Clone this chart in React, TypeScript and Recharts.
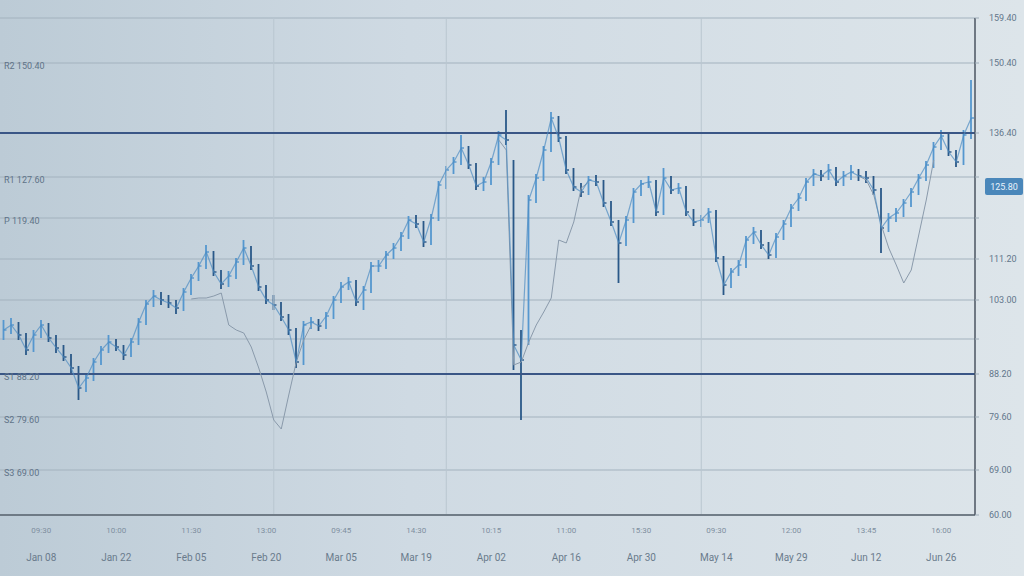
import React from 'react';
import { ComposedChart, Bar, Line, XAxis, YAxis, CartesianGrid, ReferenceLine } from 'recharts';

// daily closes
const closes = [
  97.0, 98.0, 96.0, 93.0, 96.0, 98.0, 95.4, 93.4, 91.6, 89.4,
  85.4, 87.4, 90.6, 93.0, 94.6, 93.6, 92.0, 94.6, 98.6, 102.2,
  103.8, 103.0, 102.4, 101.4, 104.6, 107.4, 109.8, 112.6, 108.6, 106.2,
  107.8, 110.6, 113.4, 109.8, 105.6, 103.0, 102.0, 99.6, 97.0, 90.6,
  98.0, 98.6, 97.8, 99.8, 103.0, 105.6, 106.6, 102.6, 105.0, 109.8,
  109.8, 112.0, 113.4, 115.8, 119.0, 118.2, 114.6, 119.4, 126.0, 129.0,
  130.6, 133.4, 130.0, 125.8, 126.6, 130.6, 136.0, 135.0, 94.0, 91.0,
  123.0, 127.4, 133.0, 139.4, 135.4, 129.0, 125.6, 124.6, 127.0, 126.6,
  122.4, 118.6, 114.4, 119.0, 124.6, 126.2, 126.6, 120.6, 127.4, 125.0,
  125.4, 120.6, 118.6, 119.0, 120.6, 111.4, 106.0, 108.6, 110.0, 115.0,
  116.6, 114.0, 112.0, 115.6, 118.2, 121.4, 123.4, 126.6, 128.2, 127.8,
  129.0, 126.6, 127.8, 128.6, 127.8, 127.4, 125.0, 117.4, 119.4, 120.4,
  122.4, 124.6, 127.4, 130.0, 133.6, 135.8, 132.6, 130.6, 136.0, 139.4,
];

const highs = [
  99.0, 99.4, 98.6, 96.4, 97.0, 99.0, 98.4, 96.0, 94.0, 92.2,
  89.8, 88.4, 91.4, 93.8, 96.0, 95.2, 94.0, 95.4, 99.4, 103.0,
  105.0, 104.6, 104.0, 103.0, 105.4, 108.2, 110.6, 114.0, 112.8, 109.0,
  108.8, 111.4, 115.0, 113.8, 110.2, 106.0, 104.0, 102.6, 100.2, 97.4,
  98.8, 99.6, 99.2, 100.6, 103.8, 106.6, 107.6, 107.0, 105.8, 110.6,
  111.0, 112.8, 114.4, 116.6, 119.8, 120.0, 118.8, 120.2, 126.8, 129.8,
  131.6, 136.0, 133.8, 130.4, 127.6, 131.4, 136.8, 141.0, 131.0, 97.0,
  124.0, 128.2, 133.8, 140.6, 139.8, 135.8, 129.4, 126.4, 127.8, 128.0,
  127.0, 122.8, 119.0, 119.8, 125.4, 127.0, 127.8, 127.0, 129.4, 127.8,
  126.4, 125.8, 121.2, 120.0, 121.4, 121.0, 111.8, 109.4, 111.0, 115.8,
  117.6, 117.0, 114.6, 116.4, 119.0, 122.2, 124.4, 127.4, 129.2, 129.0,
  130.2, 129.6, 128.8, 130.0, 129.2, 128.8, 127.8, 125.4, 120.4, 121.4,
  123.2, 125.4, 128.2, 130.8, 134.6, 137.0, 136.2, 133.0, 137.0, 147.0,
];

const lows = [
  95.0, 96.2, 95.0, 92.0, 92.6, 95.4, 94.6, 92.4, 90.8, 88.0,
  83.0, 84.6, 86.8, 90.0, 92.4, 92.8, 91.0, 91.6, 94.0, 98.0,
  101.6, 102.0, 101.4, 100.2, 100.8, 104.0, 106.8, 109.2, 107.8, 105.2,
  105.6, 107.2, 110.0, 109.0, 104.8, 102.2, 101.0, 98.8, 96.0, 89.4,
  90.0, 97.2, 96.8, 97.2, 99.2, 102.4, 105.0, 101.8, 101.0, 104.4,
  108.6, 109.2, 111.2, 112.8, 115.2, 117.4, 113.6, 114.0, 118.8, 125.2,
  128.2, 130.0, 129.2, 125.0, 124.8, 126.0, 130.0, 134.0, 89.0, 79.0,
  94.0, 122.4, 126.8, 132.6, 134.6, 128.2, 124.8, 123.6, 124.0, 125.8,
  121.6, 117.8, 106.4, 113.8, 118.4, 123.8, 125.4, 119.8, 120.0, 124.2,
  124.2, 119.8, 117.8, 117.6, 118.4, 110.6, 104.0, 105.4, 107.8, 109.4,
  114.2, 113.2, 111.2, 111.4, 115.0, 117.6, 120.8, 122.8, 125.8, 126.8,
  127.0, 125.8, 125.8, 127.0, 126.8, 126.4, 124.0, 112.4, 116.6, 118.6,
  119.6, 121.6, 124.0, 126.8, 129.4, 133.0, 131.8, 129.6, 130.0, 135.2,
];

// thin signal line, only drawn where it leaves the price
const signalPoints: [number, number][] = [
  [25, 103.2], [26, 103.4], [27, 103.4], [28, 103.8], [29, 104.4], [30, 98.0],
  [31, 97.0], [32, 96.4], [33, 93.6], [34, 89.4], [35, 84.6], [36, 79.0],
  [37, 77.2], [38, 84.0], [39, 90.6], [40, 95.0], [41, 98.0],
  [66, 135.0], [67, 133.0], [68, 90.0], [69, 90.6], [70, 94.6], [71, 98.0],
  [72, 100.6], [73, 103.4], [74, 115.0], [75, 114.4], [76, 118.6], [77, 125.4], [78, 126.6],
  [114, 127.8], [115, 127.0], [116, 124.0], [117, 118.0], [118, 113.4], [119, 110.0],
  [120, 106.4], [121, 109.0], [122, 116.0], [123, 123.0], [124, 131.0],
];

const xTickIdx = [5, 15, 25, 35, 45, 55, 65, 75, 85, 95, 105, 115, 125];
const xTickDate = ['Jan 08', 'Jan 22', 'Feb 05', 'Feb 20', 'Mar 05', 'Mar 19', 'Apr 02', 'Apr 16', 'Apr 30', 'May 14', 'May 29', 'Jun 12', 'Jun 26'];
const xTickSub = ['09:30', '10:00', '11:30', '13:00', '09:45', '14:30', '10:15', '11:00', '15:30', '09:30', '12:00', '13:45', '16:00'];

const gridTicks = [60, 69, 79.6, 88.2, 95.2, 103, 111.2, 119.4, 127.6, 136.4, 150.4, 159.4];
const rightHidden = [95.2, 119.4, 127.6];
const leftTicks = [69, 79.6, 88.2, 119.4, 127.6, 150.4];
const leftLabels = ['S3 69.00', 'S2 79.60', 'S1 88.20', 'P 119.40', 'R1 127.60', 'R2 150.40'];
const levelLines = [136.4, 88.2];
const lastPrice = 125.8;
const vGrid = [36, 59, 93];

const signalMap = new Map(signalPoints);
const rows = closes.map((c, i) => ({
  t: i,
  close: c,
  high: highs[i],
  low: lows[i],
  up: i === 0 || c >= closes[i - 1],
  signal: signalMap.has(i) ? signalMap.get(i) : null,
}));

const FONT = 'Roboto, "DejaVu Sans", sans-serif';

const Candle = (props: any) => {
  const { x, y, width, height, payload } = props;
  const top = Math.min(y, y + height);
  const h = Math.abs(height);
  const cx = x + width / 2;
  const span = payload.high - payload.low || 1;
  const yc = top + ((payload.high - payload.close) / span) * h;
  const col = payload.up ? '#5597cf' : '#2a5888';
  return (
    <g>
      <line x1={cx} x2={cx} y1={top} y2={top + h} stroke={col} strokeWidth={1.8} />
      <line x1={cx} x2={cx + 3} y1={yc} y2={yc} stroke={col} strokeWidth={1.4} />
    </g>
  );
};

const XTick = ({ x, y, payload }: any) => {
  const k = xTickIdx.indexOf(payload.value);
  if (k < 0) return null;
  return (
    <g fontFamily={FONT}>
      <text x={x} y={y + 10} textAnchor="middle" fontSize={8} fill="#7f8fa0">{xTickSub[k]}</text>
      <text x={x} y={y + 38} textAnchor="middle" fontSize={10} fill="#6a7b8c">{xTickDate[k]}</text>
    </g>
  );
};

const RightTick = ({ x, y, payload }: any) => {
  if (rightHidden.includes(payload.value)) return null;
  return (
    <text x={x + 8} y={y + 3} fontSize={9} fill="#62768b" fontFamily={FONT}>
      {payload.value.toFixed(2)}
    </text>
  );
};

const LeftLabel = ({ viewBox, text }: any) => (
  <text x={viewBox.x + 4} y={viewBox.y + 6} fontSize={9} fill="#5f7388" fontFamily={FONT}>
    {text}
  </text>
);

const PriceBox = ({ viewBox }: any) => {
  const bx = viewBox.x + viewBox.width + 10;
  return (
    <g fontFamily={FONT}>
      <rect x={bx} y={viewBox.y - 8} width={38} height={17} rx={2} fill="#4a87ba" />
      <text x={bx + 19} y={viewBox.y + 4} textAnchor="middle" fontSize={9} fill="#e8f2fa">
        {lastPrice.toFixed(2)}
      </text>
    </g>
  );
};

export default function App() {
  return (
    <div
      style={{
        position: 'absolute',
        left: 0,
        top: 0,
        width: 1024,
        height: 576,
        background: 'linear-gradient(90deg, #bccbd6 0%, #cfdae3 40%, #dde5ea 100%)',
      }}
    >
      <ComposedChart width={1024} height={576} data={rows} margin={{ top: 18, right: 0, bottom: 0, left: 0 }}>
        <CartesianGrid vertical={false} stroke="#a3b2be" strokeWidth={1} />
        {vGrid.map((v) => (
          <ReferenceLine key={v} x={v} stroke="#b9c6d0" strokeWidth={1} />
        ))}
        <XAxis
          dataKey="t"
          type="category"
          ticks={xTickIdx}
          interval={0}
          height={61}
          tick={<XTick />}
          tickLine={false}
          axisLine={{ stroke: '#59636e', strokeWidth: 1.5 }}
        />
        <YAxis
          orientation="right"
          width={49}
          domain={[60, 159.4]}
          ticks={gridTicks}
          interval={0}
          tick={<RightTick />}
          tickLine={{ stroke: '#9eacb8' }}
          tickSize={4}
          axisLine={{ stroke: '#4b5560', strokeWidth: 1.5 }}
        />
        {levelLines.map((v) => (
          <ReferenceLine key={v} y={v} stroke="#3a5686" strokeWidth={2} />
        ))}
        {leftTicks.map((v, k) => (
          <ReferenceLine key={'l' + v} y={v} stroke="none" label={<LeftLabel text={leftLabels[k]} />} />
        ))}
        <ReferenceLine y={lastPrice} stroke="none" label={<PriceBox />} />
        <Line
          type="linear"
          dataKey="signal"
          stroke="#8a9aab"
          strokeWidth={1}
          dot={false}
          connectNulls={false}
          isAnimationActive={false}
        />
        <Line
          type="linear"
          dataKey="close"
          stroke="#4d8cc2"
          strokeOpacity={0.7}
          strokeWidth={1.2}
          dot={false}
          isAnimationActive={false}
        />
        <Bar
          dataKey={(d: any) => [d.low, d.high]}
          barSize={3}
          shape={<Candle />}
          isAnimationActive={false}
        />
      </ComposedChart>
    </div>
  );
}
